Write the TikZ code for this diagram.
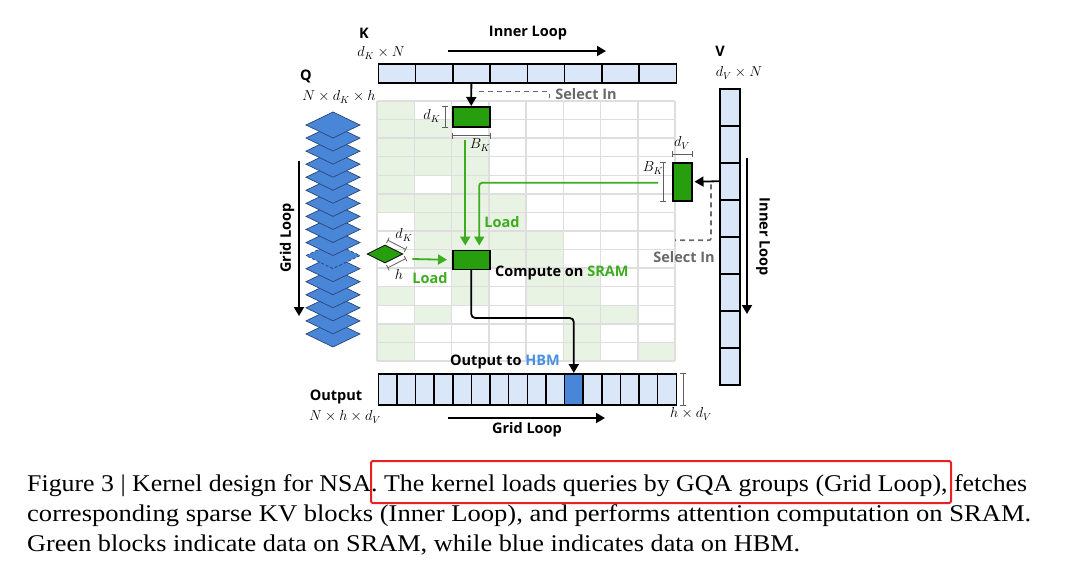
\documentclass[tikz,border=0pt]{standalone}
\usepackage{fontspec}
\setmainfont{Liberation Serif}
\newfontfamily\osfont{Open Sans}
\usetikzlibrary{arrows.meta,shapes.geometric,calc}
\definecolor{lblue}{RGB}{218,231,248}
\definecolor{qblue}{RGB}{74,134,216}
\definecolor{qedge}{RGB}{40,70,120}
\definecolor{hbmblue}{RGB}{74,144,226}
\definecolor{bgreen}{RGB}{38,158,14}
\definecolor{lgreen}{RGB}{62,172,32}
\definecolor{ggreen}{RGB}{232,243,227}
\definecolor{gline}{RGB}{222,222,222}
\definecolor{sgray}{RGB}{105,105,105}
\definecolor{dgray}{RGB}{95,95,95}
\definecolor{capred}{RGB}{232,32,32}
\tikzset{
  lbl/.style={font=\osfont\bfseries\fontsize{14.5}{16}\selectfont, inner sep=0},
  mth/.style={font=\fontsize{14}{16}\selectfont, inner sep=0},
  cellb/.style={draw=black, line width=1.5, fill=lblue, inner sep=0},
  blk/.style={draw=black, line width=1.5, fill=bgreen, inner sep=0},
  dimbar/.style={draw=dgray, line width=0.8, {Bar[width=6pt]}-{Bar[width=6pt]}},
  arr/.style={-{Triangle[length=9pt,width=10pt]}, line width=1.8},
  garr/.style={-{Triangle[length=9pt,width=10pt]}, line width=1.8, draw=lgreen, color=lgreen},
  sel/.style={draw=sgray, line width=1.6, dash pattern=on 5pt off 4pt},
  caption/.style={anchor=base west, inner sep=0, font=\fontsize{24}{28}\selectfont},
}
\begin{document}
\begin{tikzpicture}[x=1pt,y=-1pt]
\useasboundingbox[fill=white] (0,0) rectangle (1080,566);

% ---------- grid ----------
\def\gx{377}\def\gy{101}\def\cw{37.25}\def\rh{18.57}
\foreach \r/\c in {0/0,1/0,1/1,2/0,2/1,2/2,3/0,3/1,3/2,4/0,4/2,5/0,5/1,5/2,5/3,
  6/1,6/2,6/3,7/1,7/2,7/3,7/4,8/1,8/3,8/4,9/2,9/4,9/5,10/0,10/2,10/4,10/5,
  11/1,11/5,11/6,12/0,12/5,13/0,13/5,13/7}
  \fill[ggreen] ({\gx+\cw*\c},{\gy+\rh*\r}) rectangle +(\cw,\rh);
\foreach \c in {0,...,8}
  \draw[gline, line width=1.5] ({\gx+\cw*\c},\gy) -- +(0,{14*\rh});
\foreach \r in {0,...,14}
  \draw[gline, line width=1.5] (\gx,{\gy+\rh*\r}) -- +({8*\cw},0);

% ---------- K ----------
\node[lbl] (klab) at (364,33) {K};
\node[mth] (kdim) at (381,53) {$d_K\times N$};
\node[lbl] (kloop) at (528,33) {Inner Loop};
\coordinate (kl1) at (448,51);
\coordinate (kl2) at (606,51);
\draw[arr] (kl1) -- (kl2);
\foreach \i in {0,...,7}
  \node[cellb, minimum width=37.25, minimum height=19, anchor=north west] (k\i) at ({377.5+37.25*\i},63) {};

% ---------- V ----------
\node[lbl] (vlab) at (720,51) {V};
\node[mth] (vdim) at (739,73) {$d_V\times N$};
\foreach \i in {0,...,7}
  \node[cellb, minimum width=20, minimum height=37, anchor=north west] (v\i) at (719,{88+37*\i}) {};
\node[lbl, rotate=-90] (vloop) at (763,237) {Inner Loop};
\coordinate (vl1) at (747,158);
\coordinate (vl2) at (747,314);
\draw[arr] (vl1) -- (vl2);

% ---------- Q ----------
\node[lbl] (qlab) at (306,76) {Q};
\node[mth] (qdim) at (339,97) {$N\times d_K\times h$};
\foreach \i in {16,...,0}{
  \pgfmathsetmacro\cy{125+13.06*\i}
  \ifnum\i=10
    \fill[qblue] (306,\cy) -- (333,\cy-13) -- (360,\cy) -- (333,\cy+13) -- cycle;
    \draw[qedge, line width=0.8, densely dashed] (306,\cy) -- (333,\cy-13) -- (360,\cy) -- (333,\cy+13) -- cycle;
  \else
    \filldraw[fill=qblue, draw=qedge, line width=0.7] (306,\cy) -- (333,\cy-13) -- (360,\cy) -- (333,\cy+13) -- cycle;
  \fi
}
\node[lbl, rotate=90] (qloop) at (287,238) {Grid Loop};
\coordinate (ql1) at (299,161);
\coordinate (ql2) at (299,316);
\draw[arr] (ql1) -- (ql2);

% ---------- blocks ----------
\node[blk, minimum width=37, minimum height=20, anchor=north west] (kb) at (452,106) {};
\node[blk, minimum width=37, minimum height=19, anchor=north west] (cb) at (452,249.5) {};
\node[blk, minimum width=19, minimum height=38, anchor=north west] (vb) at (672,162) {};
\node[diamond, fill=bgreen, draw=black, line width=0.8, minimum width=36, minimum height=18, aspect=2, inner sep=0] (qg) at (385,254) {};

% dimension marks
\draw[dimbar] ($(kb.north west)+(-7,0)$) -- ($(kb.south west)+(-7,0)$);
\node[mth] (kbd) at (432,116) {$d_K$};
\draw[dimbar] ($(kb.south west)+(0,8)$) -- ($(kb.south east)+(0,8)$);
\node[mth] (kbb) at (480,145) {$B_K$};
\draw[dimbar] ($(vb.north west)+(0,-8)$) -- ($(vb.north east)+(0,-8)$);
\node[mth] (vbd) at (682,143) {$d_V$};
\draw[dimbar] ($(vb.north west)+(-9,0)$) -- ($(vb.south west)+(-9,0)$);
\node[mth] (vbb) at (653,168) {$B_K$};
\draw[dimbar] ($(qg.north)+(2.5,-4.5)$) -- ($(qg.east)+(2.5,-4.5)$);
\node[mth] (qgd) at (404,235) {$d_K$};
\draw[dimbar] ($(qg.east)+(2.5,4.5)$) -- ($(qg.south)+(2.5,4.5)$);
\node[mth] (qgh) at (399,274) {$h$};

% ---------- connectors ----------
\draw[arr] (k2.south) -- (kb.north);
\draw[sel] ($(k2.south)+(8,8)$) -- ++(70,0) -- ++(0,6);
\node[lbl, text=sgray] (sel1) at (586,94) {Select In};

\draw[arr, shorten >=2pt] (v2.west) -- (vb.east);
\draw[sel, rounded corners=2] ($(v2.west)+(-8,3)$) -- ++(0,56) -- ++(-36,0);
\node[lbl, text=sgray] (sel2) at (684,257) {Select In};

\draw[garr] ($(kb.south)+(-6,12)$) -- ($(cb.north)+(-6,-4)$);
\draw[garr, rounded corners=3] ($(vb.west)+(-14,1)$) -| ($(cb.north)+(8,-4)$);
\node[lbl, text=lgreen] (load1) at (502,222) {Load};
\draw[garr] ($(qg.east)+(9,5)$) -- ($(cb.west)+(-5,0)$);
\node[lbl, text=lgreen] (load2) at (430,278) {Load};
\node[lbl, anchor=west] (comp) at (495,273) {Compute on \textcolor{lgreen}{SRAM}};

% ---------- output ----------
\foreach \i in {0,...,15}{
  \ifnum\i=10
    \node[cellb, fill=qblue, minimum width=18.625, minimum height=31, anchor=north west] (o\i) at ({377.5+18.625*\i},373) {};
  \else
    \node[cellb, minimum width=18.625, minimum height=31, anchor=north west] (o\i) at ({377.5+18.625*\i},373) {};
  \fi
}
\draw[arr, rounded corners=4] (cb.south) |- ($(o10.north)+(0,-55)$) -- (o10.north);
\node[lbl] (outhbm) at (505,362) {Output to \textcolor{hbmblue}{HBM}};
\node[lbl] (outlab) at (336,397) {Output};
\node[mth] (outdim) at (345,417) {$N\times h\times d_V$};
\draw[dimbar] ($(o15.north east)+(6,0)$) -- ($(o15.south east)+(6,0)$);
\node[mth] (hdv) at (691,414) {$h\times d_V$};
\coordinate (gl1) at (448,418);
\coordinate (gl2) at (605,418);
\draw[arr] (gl1) -- (gl2);
\node[lbl] (gloop) at (527,430) {Grid Loop};

% ---------- caption ----------
\node[caption] (cap1) at (27,491) {\resizebox{1000pt}{\height}{Figure 3 | Kernel design for NSA. The kernel loads queries by GQA groups (Grid Loop), fetches}};
\node[caption] (cap2) at (27,521) {\resizebox{1004pt}{\height}{corresponding sparse KV blocks (Inner Loop), and performs attention computation on SRAM.}};
\node[caption] (cap3) at (27,551) {\resizebox{773pt}{\height}{Green blocks indicate data on SRAM, while blue indicates data on HBM.}};
\draw[capred, line width=2, rounded corners=2] (371,461) rectangle (951,503);
\end{tikzpicture}
\end{document}
